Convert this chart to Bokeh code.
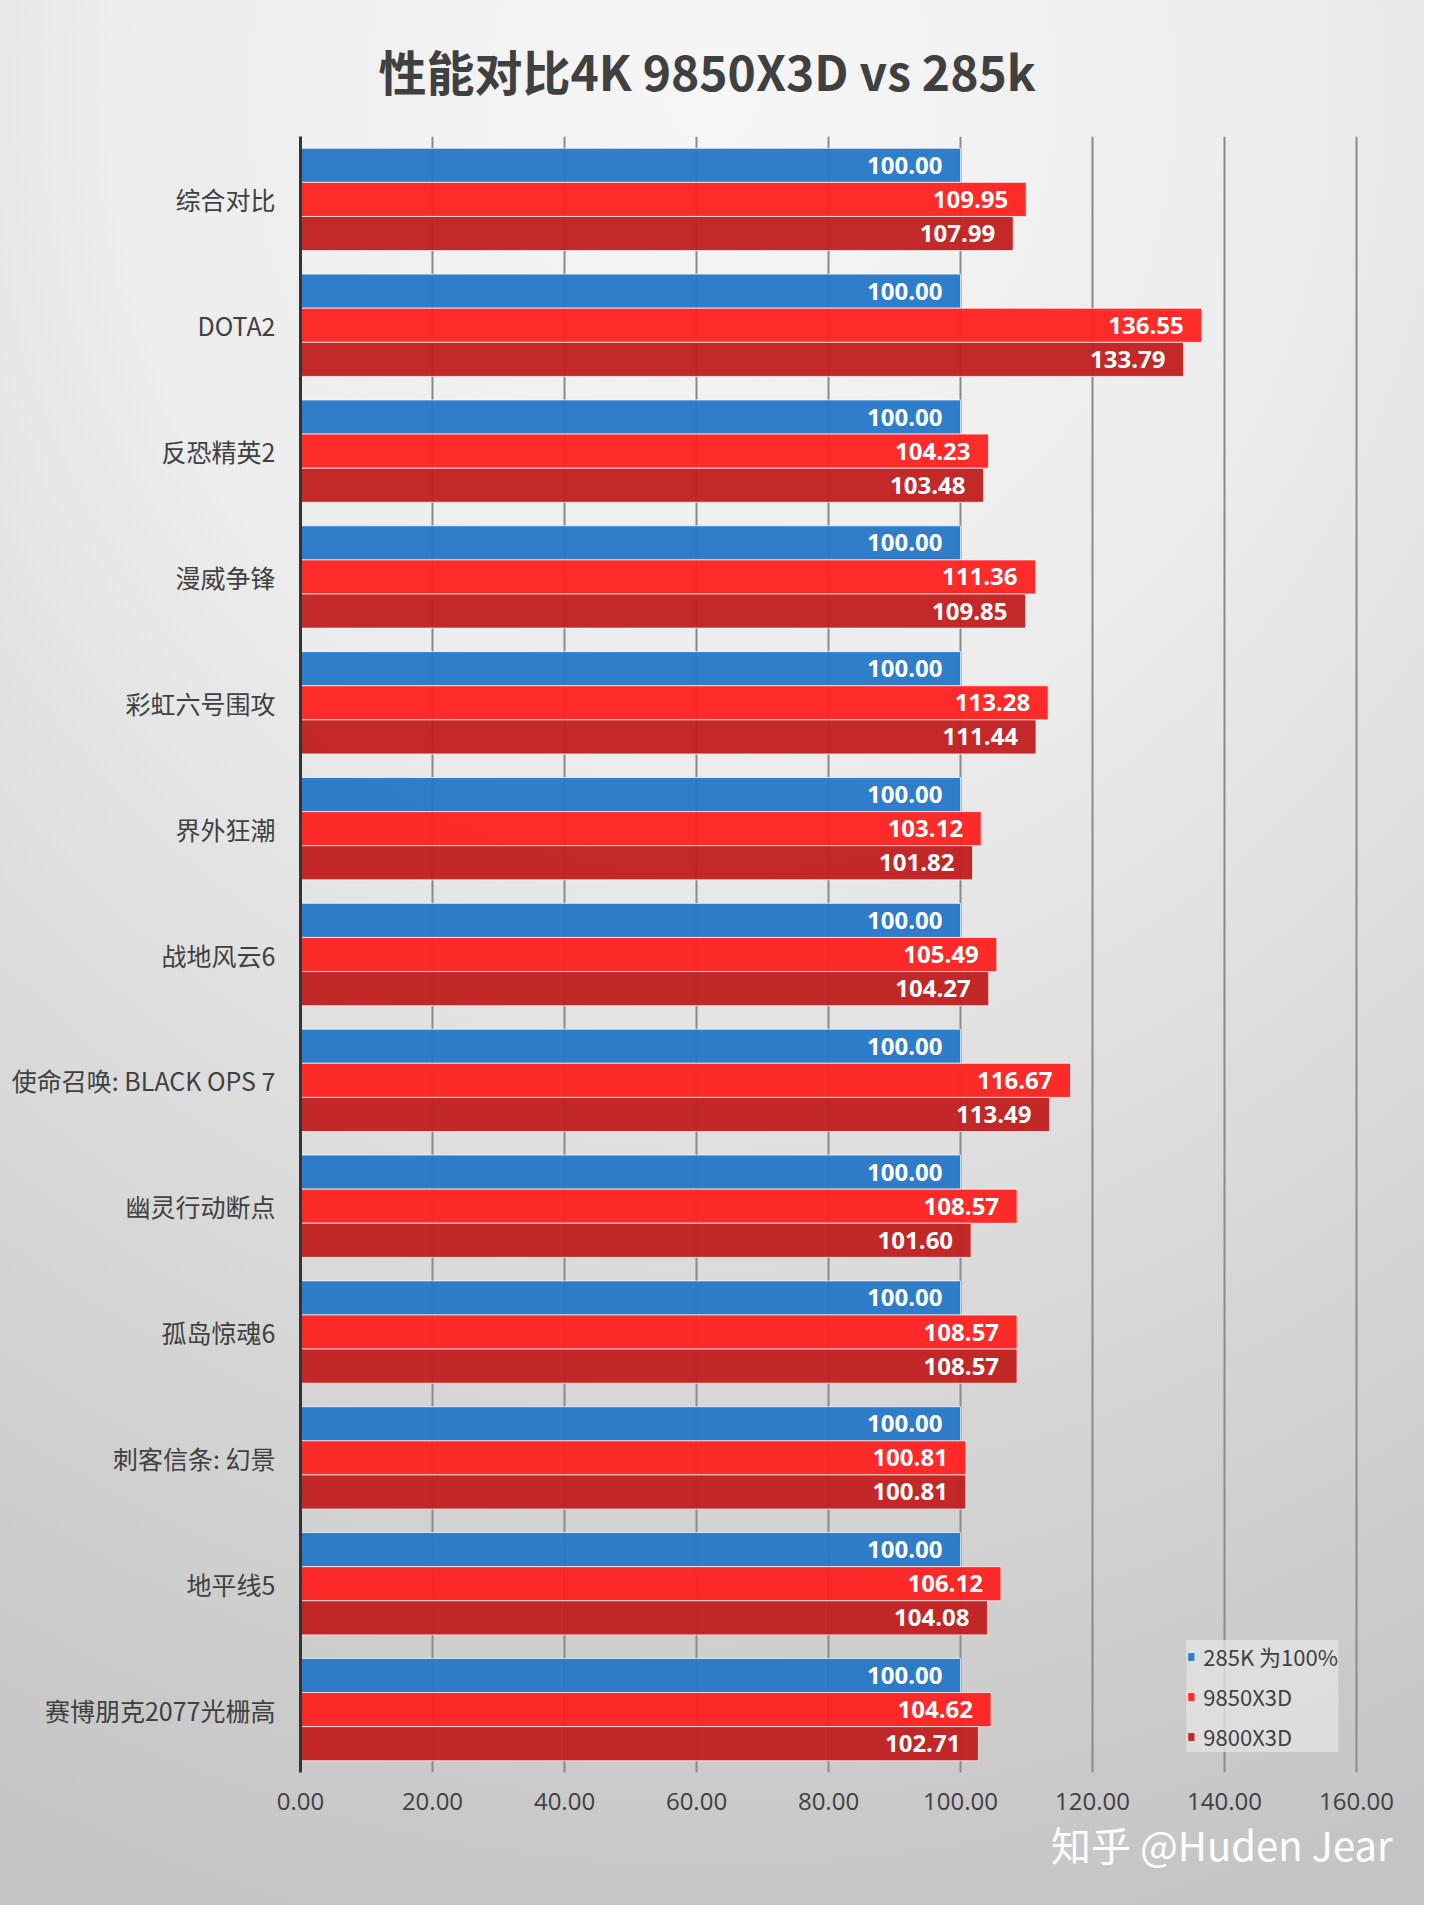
from bokeh.plotting import figure
from bokeh.models import (ColumnDataSource, FactorRange, Legend, LegendItem, Title,
                          NumeralTickFormatter, FixedTicker)
from bokeh.transform import dodge
from bokeh.core.properties import value
from bokeh.embed import file_html
from bokeh.resources import INLINE

# 数据
cats = ["综合对比", "DOTA2", "反恐精英2", "漫威争锋", "彩虹六号围攻", "界外狂潮", "战地风云6",
        "使命召唤: BLACK OPS 7", "幽灵行动断点", "孤岛惊魂6", "刺客信条: 幻景", "地平线5",
        "赛博朋克2077光栅高"]
base_285k = [100.00] * 13
r_9850x3d = [109.95, 136.55, 104.23, 111.36, 113.28, 103.12, 105.49, 116.67, 108.57, 108.57,
             100.81, 106.12, 104.62]
r_9800x3d = [107.99, 133.79, 103.48, 109.85, 111.44, 101.82, 104.27, 113.49, 101.60, 108.57,
             100.81, 104.08, 102.71]
series_names = ["285K 为100%", "9850X3D", "9800X3D"]
x_ticks = [0, 20, 40, 60, 80, 100, 120, 140, 160]
title_text = "性能对比4K 9850X3D vs 285k"
watermark = "知乎 @Huden Jear"

colors = ["#2878c8", "#fe2222", "#c22020"]
cjk = "Noto Sans CJK SC"

src = ColumnDataSource(dict(
    cat=cats,
    a=base_285k, b=r_9850x3d, c=r_9800x3d,
    a_txt=["%.2f" % v for v in base_285k],
    b_txt=["%.2f" % v for v in r_9850x3d],
    c_txt=["%.2f" % v for v in r_9800x3d],
))

p = figure(width=1424, height=1905, title=title_text,
           y_range=FactorRange(factors=cats[::-1], range_padding=0),
           x_range=(0, 160.3),
           toolbar_location=None, output_backend="svg",
           min_border_left=300, min_border_right=66,
           min_border_top=127, min_border_bottom=133)

# 标题
p.title.align = "left"
p.title.offset = 78
p.title.text_font = cjk
p.title.text_font_size = "48px"
p.title.text_font_style = "bold"
p.title.text_color = "#404040"
p.title.standoff = 64

# 渐变背景 (透明画布 + CSS)
p.border_fill_alpha = 0
p.background_fill_alpha = 0
p.outline_line_color = None
p.styles = {"background": "radial-gradient(ellipse 120% 100% at 50% 5%, #f6f6f6 0%, #ececec 35%, #d6d6d6 70%, #c4c4c4 100%)"}

bh = 0.271
offsets = [bh, 0, -bh]
renderers = []
for col, off, color in zip(["a", "b", "c"], offsets, colors):
    r = p.hbar(y=dodge("cat", off, range=p.y_range), left=0, right=col, height=bh,
               source=src, fill_color=color, fill_alpha=0.96,
               line_color="#ffffff", line_alpha=0.7, line_width=1)
    renderers.append(r)
    p.text(x=col, y=dodge("cat", off, range=p.y_range), text=col + "_txt", source=src,
           x_offset=-18, text_align="right", text_baseline="middle",
           text_color="white", text_font=value("Open Sans"), text_font_style="bold",
           text_font_size="24px")

# 坐标轴
p.yaxis.axis_line_color = "#333333"
p.yaxis.axis_line_width = 3
p.yaxis.major_tick_line_color = None
p.yaxis.minor_tick_line_color = None
p.yaxis.major_tick_out = 0
p.yaxis.major_label_text_font = cjk
p.yaxis.major_label_text_font_size = "25px"
p.yaxis.major_label_text_color = "#404040"
p.yaxis.major_label_standoff = 25
p.ygrid.grid_line_color = None

p.xaxis.ticker = FixedTicker(ticks=x_ticks)
p.xaxis.formatter = NumeralTickFormatter(format="0.00")
p.xaxis.axis_line_color = None
p.xaxis.major_tick_line_color = None
p.xaxis.minor_tick_line_color = None
p.xaxis.major_tick_out = 0
p.xaxis.major_label_text_font = "Open Sans"
p.xaxis.major_label_text_font_size = "24px"
p.xaxis.major_label_text_color = "#404040"
p.xaxis.major_label_standoff = 20
p.xgrid.ticker = FixedTicker(ticks=x_ticks)
p.xgrid.grid_line_color = "#8a8a8a"
p.xgrid.grid_line_width = 2

# 图例 (放在绘图区右下角的空白处)
legend = Legend(items=[LegendItem(label=n, renderers=[r]) for n, r in zip(series_names, renderers)],
                orientation="vertical", location="bottom_right")
legend.label_text_font = cjk
legend.label_text_font_size = "22px"
legend.label_text_color = "#404040"
legend.label_height = 22
legend.label_standoff = 8
legend.glyph_width = 9
legend.glyph_height = 11
legend.spacing = 8
legend.padding = 14
legend.margin = 20
legend.background_fill_color = "#e2e2e2"
legend.background_fill_alpha = 0.8
legend.border_line_color = None
p.add_layout(legend, "center")

# 水印
p.add_layout(Title(text=watermark, align="right", offset=-34, standoff=0,
                   text_font=cjk, text_font_size="40px", text_font_style="normal",
                   text_color="#ffffff"), "below")

open("out.html", "w").write(file_html(p, INLINE))
